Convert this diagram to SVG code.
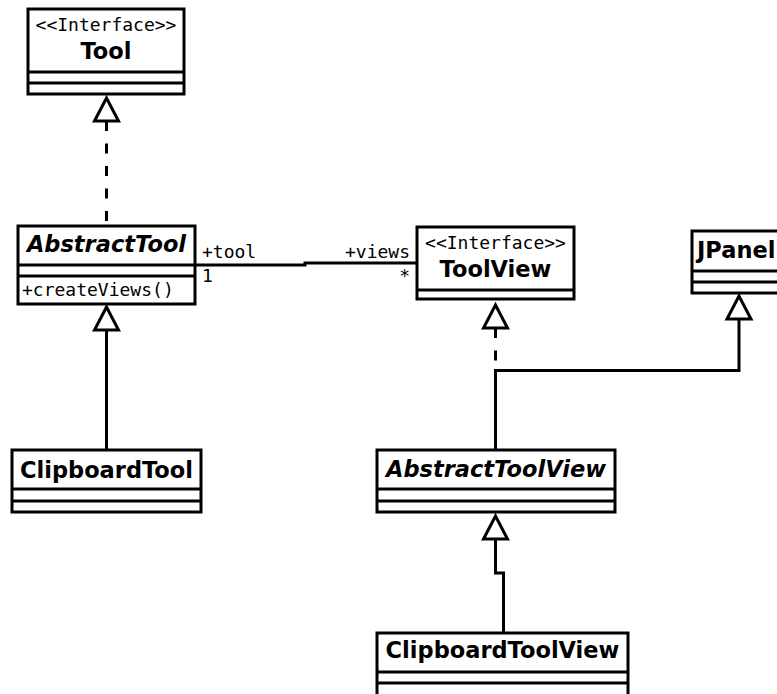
<svg xmlns="http://www.w3.org/2000/svg" width="777" height="694" viewBox="0 0 777 694">
  <style>
    .box { fill: #ffffff; stroke: #000000; stroke-width: 3; }
    .div { stroke: #000000; stroke-width: 3; }
    .edge { fill: none; stroke: #000000; stroke-width: 3; }
    .dash { stroke-dasharray: 10 12.5; }
    .head { fill: #ffffff; stroke: #000000; stroke-width: 3; stroke-linejoin: miter; }
    .title { font-family: "DejaVu Sans", sans-serif; font-weight: bold; font-size: 22.5px; fill: #000000; }
    .abstract { font-style: italic; }
    .mono { font-family: "DejaVu Sans Mono", monospace; font-size: 18px; fill: #000000; }
    .mid { text-anchor: middle; }
    .end { text-anchor: end; }
  </style>
  <rect width="777" height="694" fill="#ffffff"/>

  <g id="connectors">
    <!-- AbstractTool realizes Tool -->
    <line class="edge dash" x1="106.5" y1="121" x2="106.5" y2="226"/>
    <polygon class="head" points="106.5,98 94.5,121 118.5,121"/>
    <!-- ClipboardTool extends AbstractTool -->
    <line class="edge" x1="106.5" y1="330" x2="106.5" y2="450"/>
    <polygon class="head" points="106.5,307 94.5,330 118.5,330"/>
    <!-- association AbstractTool - ToolView -->
    <polyline class="edge" points="195,265 305,265 305,263 417,263"/>
    <text class="mono" x="202" y="258">+tool</text>
    <text class="mono" x="202" y="282">1</text>
    <text class="mono end" x="410" y="258">+views</text>
    <text class="mono end" x="410" y="282">*</text>
    <!-- AbstractToolView realizes ToolView -->
    <line class="edge dash" x1="495.5" y1="328" x2="495.5" y2="450"/>
    <polygon class="head" points="495.5,305 483.5,328 507.5,328"/>
    <!-- AbstractToolView extends JPanel -->
    <polyline class="edge" points="739,319 739,370.5 495.5,370.5 495.5,450"/>
    <polygon class="head" points="739,296 727,319 751,319"/>
    <!-- ClipboardToolView extends AbstractToolView -->
    <polyline class="edge" points="503.5,633 503.5,573 495.5,573 495.5,539"/>
    <polygon class="head" points="495.5,516 483.5,539 507.5,539"/>
  </g>

  <g id="tool">
    <rect class="box" x="28" y="9" width="156" height="85"/>
    <line class="div" x1="28" y1="72" x2="184" y2="72"/>
    <line class="div" x1="28" y1="83" x2="184" y2="83"/>
    <text class="mono mid" x="106" y="31">&lt;&lt;Interface&gt;&gt;</text>
    <text class="title mid" x="106" y="59">Tool</text>
  </g>

  <g id="abstract-tool">
    <rect class="box" x="18" y="226" width="177" height="78"/>
    <line class="div" x1="18" y1="265" x2="195" y2="265"/>
    <line class="div" x1="18" y1="276" x2="195" y2="276"/>
    <text class="title abstract mid" x="106.5" y="252">AbstractTool</text>
    <text class="mono" x="22" y="296">+createViews()</text>
  </g>

  <g id="clipboard-tool">
    <rect class="box" x="12" y="450" width="189" height="62"/>
    <line class="div" x1="12" y1="489" x2="201" y2="489"/>
    <line class="div" x1="12" y1="501" x2="201" y2="501"/>
    <text class="title mid" x="106.5" y="478">ClipboardTool</text>
  </g>

  <g id="tool-view">
    <rect class="box" x="417" y="227" width="157" height="72"/>
    <line class="div" x1="417" y1="290" x2="574" y2="290"/>
    <text class="mono mid" x="495.5" y="249">&lt;&lt;Interface&gt;&gt;</text>
    <text class="title mid" x="495.5" y="277">ToolView</text>
  </g>

  <g id="jpanel">
    <rect class="box" x="692" y="231" width="94" height="62"/>
    <line class="div" x1="692" y1="271" x2="786" y2="271"/>
    <line class="div" x1="692" y1="282" x2="786" y2="282"/>
    <text class="title" x="697" y="258">JPanel</text>
  </g>

  <g id="abstract-tool-view">
    <rect class="box" x="377" y="450" width="238" height="62"/>
    <line class="div" x1="377" y1="489" x2="615" y2="489"/>
    <line class="div" x1="377" y1="501" x2="615" y2="501"/>
    <text class="title abstract mid" x="496" y="477">AbstractToolView</text>
  </g>

  <g id="clipboard-tool-view">
    <rect class="box" x="377" y="633" width="251" height="64"/>
    <line class="div" x1="377" y1="672" x2="628" y2="672"/>
    <line class="div" x1="377" y1="683" x2="628" y2="683"/>
    <text class="title mid" x="502.5" y="658">ClipboardToolView</text>
  </g>
</svg>
